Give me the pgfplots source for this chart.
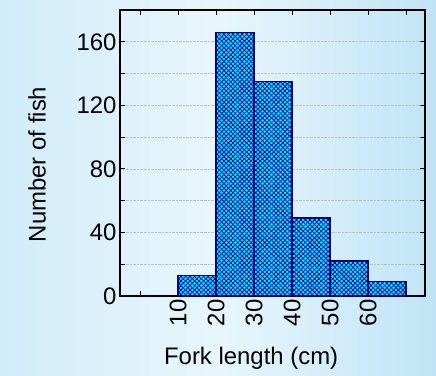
\documentclass[border=0pt]{standalone}
\usepackage{pgfplots}
\pgfplotsset{compat=1.18}
\usepackage{fontspec}
\setmainfont{Liberation Sans}
\usetikzlibrary{patterns.meta}
\definecolor{barfill}{RGB}{0,235,255}
\definecolor{hatch}{RGB}{0,0,150}
\definecolor{edge}{RGB}{0,0,120}
\definecolor{bgL}{RGB}{208,236,249}
\definecolor{bgM}{RGB}{232,246,252}
\definecolor{bgR}{RGB}{192,228,246}
\begin{document}
\begin{tikzpicture}
\shade[left color=bgL, right color=bgR, middle color=bgM] (-120bp,-80bp) rectangle (316bp,296bp);
\begin{axis}[
  at={(0,0)}, anchor=south west,
  scale only axis, width=305bp, height=286bp,
  font=\fontsize{24}{28}\selectfont,
  /pgf/number format/assume math mode=true,
  xmin=-5.3, xmax=75, ymin=0, ymax=180,
  xtick={0,10,...,70}, xticklabels={,10,20,30,40,50,60,},
  ytick={0,20,...,160}, yticklabels={0,,40,,80,,120,,160},
  xticklabel style={rotate=90, anchor=east},
  tick align=inside, major tick length=5bp,
  xtick pos=both, ytick pos=both,
  tick style={black, line width=1bp},
  axis line style={black, line width=1.4bp},
  ymajorgrids, major grid style={densely dotted, black!25, line width=0.6bp},
  xlabel={Fork length (cm)}, ylabel={Number of fish},
  xlabel style={at={(axis description cs:0.43,-0.217)}, anchor=center},
  ylabel style={at={(axis description cs:-0.272,0.46)}, anchor=center},
]
\pgfplotstableread{
x y
10 13
20 166
30 135
40 49
50 22
60 9
70 9
}\bins
\addplot[ybar interval, fill=barfill, draw=none, forget plot] table {\bins};
\addplot[ybar interval, draw=none, forget plot,
  pattern={Lines[angle=45,distance=3.2bp,line width=0.75bp]}, pattern color=hatch] table {\bins};
\addplot[ybar interval, draw=edge, line width=1.3bp,
  pattern={Lines[angle=-45,distance=3.2bp,line width=0.75bp]}, pattern color=hatch] table {\bins};
\end{axis}
\pgfresetboundingbox
\path (-120bp,-80bp) rectangle (316bp,296bp);
\end{tikzpicture}
\end{document}
